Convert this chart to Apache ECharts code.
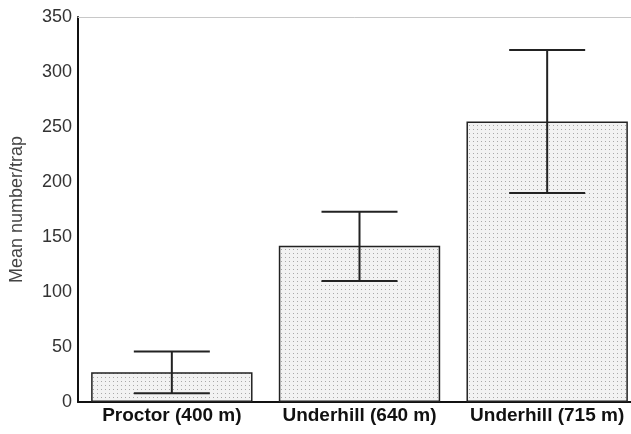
<!DOCTYPE html>
<html>
<head>
<meta charset="utf-8">
<script src="https://cdn.jsdelivr.net/npm/echarts@6/dist/echarts.min.js"></script>
<style>
  html, body { margin: 0; padding: 0; background: #fff; }
  #chart { width: 631px; height: 434px; }
</style>
</head>
<body>
<div id="chart"></div>
<script>
// data
var sites = ['Proctor (400 m)', 'Underhill (640 m)', 'Underhill (715 m)'];
var meanPerTrap = [27, 142, 255];
var errLow = [8, 110, 190];
var errHigh = [46, 173, 320];

// dotted fill like the printed screen
function dotPattern() {
  var c = document.createElement('canvas');
  c.width = 4; c.height = 4;
  var ctx = c.getContext('2d');
  ctx.fillStyle = '#f2f2f2';
  ctx.fillRect(0, 0, 4, 4);
  ctx.fillStyle = '#a8a8a8';
  ctx.fillRect(1, 1, 1, 1);
  return c;
}

var chart = echarts.init(document.getElementById('chart'));
chart.setOption({
  backgroundColor: '#fff',
  animation: false,
  grid: { left: 78, right: -10, top: 17, bottom: 32, outerBoundsMode: 'none', containLabel: false },
  xAxis: [{
    type: 'category',
    data: sites,
    axisLine: { lineStyle: { color: '#111', width: 2 } },
    axisTick: { show: false },
    axisLabel: { interval: 0, hideOverlap: false, color: '#111', fontFamily: 'Liberation Sans', fontSize: 19, fontWeight: 'bold', margin: 4 }
  }, {
    // faint top rule of the frame
    type: 'category',
    position: 'top',
    data: sites,
    axisLine: { lineStyle: { color: '#c8c8c8', width: 1 } },
    axisTick: { show: false },
    axisLabel: { show: false }
  }],
  yAxis: {
    type: 'value',
    min: 0, max: 350, interval: 50,
    name: 'Mean number/trap',
    nameLocation: 'middle',
    nameGap: 52,
    nameTextStyle: { color: '#444', fontFamily: 'Liberation Sans', fontSize: 18 },
    axisLine: { show: true, lineStyle: { color: '#111', width: 2 } },
    axisTick: { show: false },
    splitLine: { show: false },
    axisLabel: { color: '#333', fontFamily: 'Liberation Sans', fontSize: 18, margin: 6 }
  },
  series: [
    {
      type: 'bar',
      data: meanPerTrap,
      barWidth: '86%',
      itemStyle: { color: { image: dotPattern(), repeat: 'repeat' }, borderColor: '#222', borderWidth: 1.5 }
    },
    {
      type: 'custom',
      data: sites.map(function (s, i) { return [i, errLow[i], errHigh[i]]; }),
      renderItem: function (params, api) {
        var lo = api.coord([api.value(0), api.value(1)]);
        var hi = api.coord([api.value(0), api.value(2)]);
        var half = 38;
        var st = { stroke: '#222', lineWidth: 2 };
        return {
          type: 'group',
          children: [
            { type: 'line', shape: { x1: hi[0], y1: hi[1], x2: lo[0], y2: lo[1] }, style: st },
            { type: 'line', shape: { x1: hi[0] - half, y1: hi[1], x2: hi[0] + half, y2: hi[1] }, style: st },
            { type: 'line', shape: { x1: lo[0] - half, y1: lo[1], x2: lo[0] + half, y2: lo[1] }, style: st }
          ]
        };
      },
      z: 5
    }
  ]
});
</script>
</body>
</html>
